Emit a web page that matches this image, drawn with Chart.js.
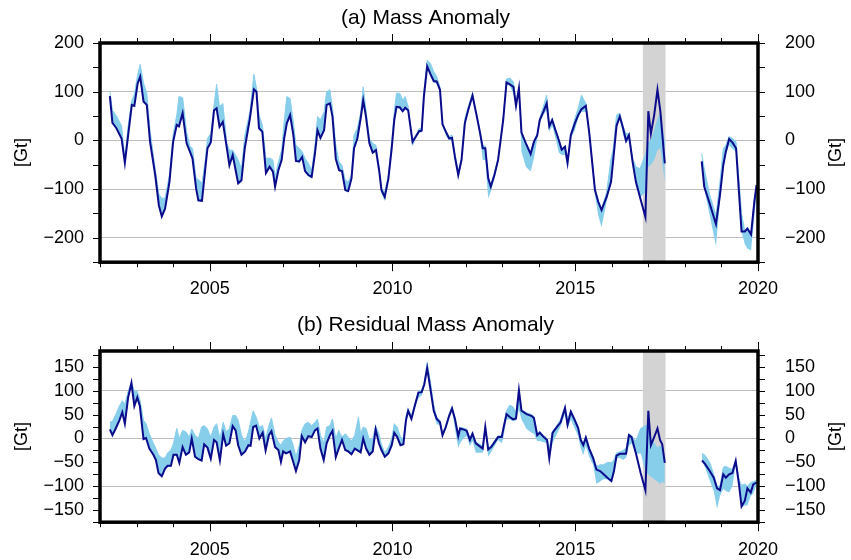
<!DOCTYPE html>
<html>
<head>
<meta charset="utf-8">
<script src="https://cdn.jsdelivr.net/npm/chart.js@4/dist/chart.umd.min.js"></script>
<style>
  body { margin: 0; background: #fff; }
  #wrap { position: relative; width: 851px; height: 560px; }
  canvas { position: absolute; left: 0; }
</style>
</head>
<body>
<div id="wrap">
  <canvas id="chartA" width="851" height="300" style="top:0"></canvas>
  <canvas id="chartB" width="851" height="260" style="top:300px"></canvas>
</div>
<script>
// ---- data (decimal year, Gt) ----
const yearsA = [
  2002.27, 2002.34, 2002.45, 2002.59, 2002.68, 2002.77, 2002.87, 2002.94,
  2003.03, 2003.10, 2003.19, 2003.28, 2003.37, 2003.51, 2003.61, 2003.69, 2003.78, 2003.90,
  2004.00, 2004.10, 2004.16, 2004.26, 2004.37, 2004.46, 2004.53, 2004.63, 2004.69, 2004.79, 2004.88, 2004.94,
  2005.03, 2005.12, 2005.19, 2005.27, 2005.36, 2005.47, 2005.54, 2005.63, 2005.78, 2005.87, 2005.96,
  2006.10, 2006.21, 2006.28, 2006.35, 2006.44, 2006.54, 2006.64, 2006.73, 2006.79, 2006.88, 2006.97,
  2007.04, 2007.11, 2007.20, 2007.29, 2007.36, 2007.45, 2007.53, 2007.61, 2007.70, 2007.79, 2007.88, 2007.95,
  2008.03, 2008.13, 2008.20, 2008.29, 2008.36, 2008.45, 2008.54, 2008.62, 2008.71, 2008.79, 2008.88, 2008.95,
  2009.04, 2009.13, 2009.20, 2009.27, 2009.37, 2009.46, 2009.55, 2009.64, 2009.70, 2009.79, 2009.89, 2009.98,
  2010.05, 2010.11, 2010.20, 2010.28, 2010.35, 2010.43, 2010.55, 2010.64, 2010.73, 2010.80, 2010.86, 2010.95,
  2011.04, 2011.13, 2011.21, 2011.30, 2011.37, 2011.46, 2011.55, 2011.63, 2011.71, 2011.80, 2011.89, 2011.98,
  2012.07, 2012.19, 2012.30, 2012.39, 2012.47, 2012.54, 2012.62, 2012.69, 2012.79, 2012.89,
  2013.03, 2013.12, 2013.21, 2013.31, 2013.38, 2013.46, 2013.53, 2013.65, 2013.78, 2013.87, 2013.96,
  2014.03, 2014.13, 2014.22, 2014.29, 2014.37, 2014.46, 2014.55, 2014.63, 2014.72, 2014.79, 2014.88, 2014.99,
  2015.08, 2015.17, 2015.29, 2015.38, 2015.54, 2015.63, 2015.72, 2015.86, 2015.98,
  2016.04, 2016.13, 2016.22, 2016.31, 2016.39, 2016.47, 2016.57, 2016.66, 2016.77, 2016.92,
  2017.00, 2017.07, 2017.16, 2017.25, 2017.33, 2017.45,
  2018.46, 2018.53, 2018.68, 2018.85, 2018.96, 2019.05, 2019.12, 2019.21, 2019.30, 2019.40,
  2019.55, 2019.64, 2019.71, 2019.81, 2019.90, 2019.96
];
const massA = [
  91, 36, 25, 4, -46, 11, 73, 71,
  117, 131, 80, 73, -3, -71, -133, -156, -140, -85,
  -3, 32, 29, 56, -6, -23, -37, -99, -123, -124, -58, -16,
  -4, 62, 66, 28, 38, -16, -51, -30, -88, -82, -16,
  45, 105, 100, 25, 18, -67, -54, -64, -95, -61, -40,
  5, 35, 52, 11, -42, -43, -34, -63, -71, -75, -27, 21,
  5, 21, 73, 76, 49, -38, -61, -63, -102, -104, -78, -16,
  4, 45, 82, 52, -6, -25, -20, -64, -102, -116, -78, -16,
  42, 69, 68, 60, 67, 62, -3, 8, 19, 20, 90, 152,
  136, 122, 121, 104, 33, 18, 4, 5, -34, -71, -40, 35,
  62, 92, 52, 18, -16, -16, -78, -95, -71, -40,
  42, 119, 115, 110, 71, 107, 16, -6, -28, -3, 10,
  42, 59, 76, 29, 42, 21, 1, -19, -13, -46, 11, 35,
  52, 64, 71, 18, -102, -126, -143, -116, -85,
  -40, 30, 49, 25, -1, 11, -44, -85, -116, -157,
  60, 14, 52, 104, 59, -47,
  -43, -95, -130, -172, -112, -51, -23, 3, -4, -16,
  -187, -187, -181, -193, -126, -92
];
const massLowA = [
  88, 34, 23, 2, -54, 8, 70, 69,
  115, 128, 78, 70, -6, -74, -136, -157, -142, -88,
  -6, 29, 27, 53, -9, -26, -40, -101, -125, -126, -61, -19,
  -7, 59, 63, 25, 35, -19, -54, -33, -91, -85, -19,
  42, 102, 97, 22, 15, -70, -57, -67, -98, -64, -43,
  2, 32, 49, 8, -45, -46, -37, -66, -74, -78, -30, 18,
  2, 18, 70, 73, 46, -41, -64, -66, -105, -107, -81, -19,
  1, 42, 79, 49, -9, -28, -23, -67, -109, -125, -81, -19,
  39, 66, 65, 57, 64, 59, -13, 4, 16, 17, 86, 148,
  132, 118, 117, 100, 29, 10, 0, 1, -38, -82, -44, 31,
  58, 88, 48, 10, -40, -40, -119, -105, -78, -46,
  36, 115, 112, 96, 68, 100, -23, -54, -64, -37, 2,
  36, 52, 62, 18, 30, 5, -25, -30, -30, -58, 5, 21,
  45, 59, 59, 12, -113, -154, -178, -126, -88,
  -44, 28, 45, 11, -6, 1, -54, -92, -118, -106,
  -54, -50, -40, -20, -16, -85,
  -44, -99, -154, -217, -126, -58, -30, -10, -17, -23,
  -188, -213, -222, -226, -157, -106
];
const massHighA = [
  100, 62, 50, 30, -37, 30, 82, 95,
  135, 156, 118, 97, 20, -58, -110, -119, -118, -71,
  12, 52, 90, 88, 18, -12, -16, -78, -80, -88, -40, 4,
  14, 73, 115, 69, 76, -6, -20, -20, -40, -58, 10,
  59, 136, 107, 52, 32, -37, -36, -40, -75, -44, -20,
  40, 90, 86, 38, -10, -16, -23, -37, -47, -61, -10, 49,
  42, 59, 100, 104, 66, -10, -44, -51, -82, -85, -71, 11,
  25, 56, 110, 66, 4, -6, -10, -58, -99, -106, -71, -3,
  59, 97, 97, 83, 90, 69, -1, 10, 25, 23, 100, 165,
  158, 141, 131, 110, 36, 20, 8, 11, -30, -64, -34, 45,
  68, 98, 56, 22, -10, -12, -75, -90, -66, -36,
  46, 126, 128, 120, 80, 108, 18, -4, -24, 0, 14,
  46, 70, 93, 32, 45, 23, 2, -17, -12, -44, 14, 45,
  66, 93, 76, 22, -99, -124, -140, -106, -37,
  -17, 52, 56, 28, 14, 14, -37, -54, -58, -30,
  -3, 0, 18, 42, 56, -10,
  -27, -58, -112, -154, -85, -17, -10, 8, 4, -3,
  -150, -186, -178, -190, -120, -92
];

const yearsB = [
  2002.27, 2002.34, 2002.43, 2002.53, 2002.61, 2002.68, 2002.77, 2002.86, 2002.94,
  2003.02, 2003.09, 2003.19, 2003.26, 2003.35, 2003.46, 2003.53, 2003.60, 2003.69, 2003.78, 2003.85, 2003.94,
  2004.01, 2004.10, 2004.17, 2004.26, 2004.35, 2004.44, 2004.51, 2004.60, 2004.69, 2004.78, 2004.85, 2004.94,
  2005.03, 2005.12, 2005.19, 2005.28, 2005.37, 2005.45, 2005.54, 2005.63, 2005.71, 2005.78, 2005.87, 2005.97,
  2006.06, 2006.12, 2006.19, 2006.27, 2006.36, 2006.45, 2006.53, 2006.62, 2006.69, 2006.79, 2006.88, 2006.95,
  2007.01, 2007.09, 2007.20, 2007.27, 2007.36, 2007.45, 2007.52, 2007.61, 2007.70, 2007.79, 2007.88, 2007.95,
  2008.03, 2008.12, 2008.20, 2008.29, 2008.36, 2008.45, 2008.53, 2008.62, 2008.71, 2008.79, 2008.88, 2008.97,
  2009.07, 2009.13, 2009.20, 2009.28, 2009.37, 2009.46, 2009.54, 2009.63, 2009.70, 2009.79, 2009.89, 2009.98,
  2010.05, 2010.13, 2010.22, 2010.30, 2010.37, 2010.43, 2010.52, 2010.61, 2010.71, 2010.80, 2010.87, 2010.95,
  2011.04, 2011.13, 2011.21, 2011.30, 2011.37, 2011.46, 2011.55, 2011.63, 2011.71, 2011.80, 2011.85, 2011.94,
  2012.03, 2012.12, 2012.19, 2012.28, 2012.47, 2012.54, 2012.62, 2012.71, 2012.89, 2012.99,
  2013.03, 2013.12, 2013.21, 2013.30, 2013.38, 2013.46, 2013.53, 2013.67, 2013.81, 2013.87, 2013.96,
  2014.03, 2014.14, 2014.23, 2014.29, 2014.38, 2014.47, 2014.60, 2014.72, 2014.79, 2014.88, 2014.99,
  2015.08, 2015.15, 2015.22, 2015.29, 2015.38, 2015.49, 2015.58, 2015.68, 2015.77, 2015.88, 2015.99,
  2016.06, 2016.13, 2016.22, 2016.31, 2016.39, 2016.47, 2016.54, 2016.66, 2016.79, 2016.92,
  2017.00, 2017.07, 2017.16, 2017.25, 2017.32, 2017.38, 2017.45,
  2018.47, 2018.55, 2018.68, 2018.79, 2018.88, 2018.96, 2019.05, 2019.12, 2019.21, 2019.30,
  2019.39, 2019.48, 2019.55, 2019.64, 2019.71, 2019.80, 2019.87, 2019.96
];
const residB = [
  19, 7, 21, 38, 55, 31, 86, 116, 68,
  86, 68, -1, 1, -21, -34, -45, -72, -79, -63, -57, -57,
  -34, -34, -51, -18, -34, -29, 0, -38, -43, -46, -12, -19,
  -42, -3, -8, -46, 9, -15, -10, 26, 17, -14, -34, -27,
  -14, -15, 24, 27, 0, 12, -25, 7, 15, -18, -24, -49,
  -27, -31, -27, -45, -68, -45, 5, -8, 5, 3, 17, 21,
  -21, -45, -10, 7, 16, -39, -21, -3, -24, -27, -33, -21,
  -26, -29, 0, -21, -34, -27, 19, -10, -24, -38, -31, -14,
  12, 3, -14, -12, 38, 58, 41, 68, 96, 97, 113, 147,
  103, 58, 41, 34, 7, 24, 47, 63, 41, 5, 21, 19,
  16, -3, 10, -10, -21, 24, -23, -17, 3, 3,
  19, 51, 45, 40, 42, 101, 58, 51, 47, 43, 7,
  12, 3, -3, -41, 12, 21, 34, 64, 29, 56, 38,
  22, -3, -14, 2, -21, -41, -65, -68, -74, -82, -89,
  -68, -36, -32, -32, -32, 7, 3, -31, -72, -108,
  58, -14, 3, 21, -3, -12, -51,
  -46, -53, -68, -82, -104, -108, -75, -82, -75, -72,
  -47, -96, -142, -130, -104, -113, -96, -92
];
const residLowB = [
  17, 5, 19, 36, 52, 29, 83, 112, 66,
  84, 66, -3, -1, -23, -36, -47, -74, -81, -65, -59, -59,
  -36, -36, -53, -20, -36, -31, -2, -40, -45, -48, -14, -21,
  -44, -5, -10, -48, 7, -17, -12, 24, 15, -16, -36, -29,
  -16, -17, 22, 25, -2, 10, -27, 5, 13, -20, -26, -51,
  -29, -33, -29, -47, -70, -47, 3, -10, 3, 1, 15, 19,
  -23, -47, -12, 5, 14, -41, -23, -5, -26, -29, -35, -23,
  -28, -31, -2, -23, -36, -29, 17, -12, -26, -42, -33, -16,
  10, 1, -16, -14, 36, 54, 36, 64, 84, 90, 108, 140,
  98, 54, 30, 28, 3, 20, 43, 59, 20, -20, -10, 0,
  5, -16, -5, -30, -30, 17, -38, -27, -3, -10,
  0, 40, 40, 36, 38, 60, 40, 20, 12, 10, -5,
  -5, -8, -10, -43, -10, 5, 25, 50, 20, 40, 20,
  5, -20, -35, -15, -38, -55, -95, -90, -85, -85, -92,
  -72, -42, -40, -45, -40, -15, -10, -33, -31, -68,
  -75, -80, -85, -90, -95, -90, -95,
  -48, -60, -88, -110, -147, -120, -105, -110, -113, -100,
  -55, -100, -144, -140, -140, -120, -115, -96
];
const residHighB = [
  34, 36, 50, 68, 79, 72, 99, 118, 99,
  99, 82, 38, 31, 10, -10, -21, -34, -41, -41, -30, -24,
  -10, 21, 0, 17, 14, 3, 20, 7, 0, 24, 27, 20,
  3, 24, 31, 0, 34, 14, 21, 48, 48, 38, 7, -7,
  14, 34, 58, 45, 24, 27, 0, 27, 43, 7, -8, -14,
  -5, 0, 3, -10, -38, -14, 17, 31, 34, 27, 34, 41,
  7, -10, 24, 27, 41, 0, 17, 3, 10, 3, -5, 7,
  45, 10, 24, 21, -3, 0, 27, 10, -12, -30, -18, 0,
  31, 24, 3, 0, 48, 62, 48, 72, 98, 102, 117, 160,
  118, 70, 45, 38, 10, 28, 51, 67, 45, 10, 24, 22,
  20, 0, 14, -7, -16, 28, -20, -14, 6, 6,
  22, 58, 70, 66, 55, 104, 60, 54, 50, 46, 10,
  15, 6, 0, -20, 15, 24, 40, 67, 40, 59, 41,
  25, 0, -10, 5, -18, -38, -58, -55, -55, -50, -50,
  -45, -30, -28, -25, -20, 10, 6, -5, 21, 27,
  27, 0, -10, -20, -15, -20, -45,
  -31, -35, -50, -75, -100, -100, -60, -58, -62, -65,
  -44, -85, -98, -95, -100, -92, -90, -88
];

// ticks and shaded interval
const xTickLabels = [2005, 2010, 2015, 2020];
const yTickLabelsA = [-200, -100, 0, 100, 200];
const yTickLabelsB = [-150, -100, -50, 0, 50, 100, 150];
const shadedYears = [2016.85, 2017.47];

const FONT = '"Liberation Sans", Arial, Helvetica, sans-serif';
Chart.defaults.font.family = FONT;
Chart.defaults.color = '#000';

const LINE = '#0b0b8c';
const BAND = '#87ceeb';

function segments(xs, ys) {
  const segs = [[]];
  xs.forEach((x, i) => {
    if (i > 0 && x - xs[i - 1] > 0.5) segs.push([]);
    segs[segs.length - 1].push({ x: x, y: ys[i] });
  });
  return segs;
}

// proper minus sign for negative labels
const fmt = v => (v < 0 ? '\u2212' + Math.abs(v) : String(v));

// frame, tick marks, grey box, axis titles
const framePlugin = {
  id: 'frame',
  beforeDatasetsDraw(chart) {
    const { ctx, chartArea: a, scales: { x } } = chart;
    const x0 = x.getPixelForValue(shadedYears[0]);
    const x1 = x.getPixelForValue(shadedYears[1]);
    ctx.save();
    ctx.fillStyle = '#d3d3d3';
    ctx.fillRect(x0, a.top, x1 - x0, a.bottom - a.top);
    ctx.restore();
  },
  afterDraw(chart, args, opts) {
    const { ctx, chartArea: a, scales: { x, y } } = chart;
    ctx.save();
    ctx.strokeStyle = '#000';
    ctx.lineWidth = 1;
    ctx.beginPath();
    for (let yr = 2002; yr <= 2020; yr++) {
      const px = Math.round(x.getPixelForValue(yr)) + 0.5;
      const len = yr % 5 === 0 ? 9 : 5;
      ctx.moveTo(px, a.top); ctx.lineTo(px, a.top - len);
      ctx.moveTo(px, a.bottom); ctx.lineTo(px, a.bottom + len);
    }
    for (let v = opts.tickMin; v <= y.max + 0.01; v += opts.tickStep) {
      const py = Math.round(y.getPixelForValue(v)) + 0.5;
      ctx.moveTo(a.left, py); ctx.lineTo(a.left - 7, py);
      ctx.moveTo(a.right, py); ctx.lineTo(a.right + 7, py);
    }
    ctx.stroke();
    ctx.lineWidth = 3.5;
    ctx.strokeRect(a.left, a.top, a.right - a.left, a.bottom - a.top);

    ctx.font = '18px ' + FONT;
    ctx.fillStyle = '#000';
    ctx.textAlign = 'center';
    ctx.textBaseline = 'middle';
    const cy = (a.top + a.bottom) / 2;
    [22, 836].forEach(tx => {
      ctx.save();
      ctx.translate(tx, cy);
      ctx.rotate(-Math.PI / 2);
      ctx.fillText('[Gt]', 0, 0);
      ctx.restore();
    });
    ctx.restore();
  }
};

function makePanel(id, title, titlePad, xs, vals, lo, hi, yMin, yMax, yLabels, tickMin, tickStep, xHeight, xPad) {
  const lineSegs = segments(xs, vals);
  const loSegs = segments(xs, lo);
  const hiSegs = segments(xs, hi);
  const datasets = [];
  loSegs.forEach((seg, i) => {
    datasets.push({ data: seg, borderWidth: 0, borderColor: 'rgba(0,0,0,0)', pointRadius: 0, fill: false, order: 2 });
    datasets.push({ data: hiSegs[i], borderWidth: 1, borderColor: BAND, backgroundColor: BAND, pointRadius: 0, fill: '-1', order: 2 });
  });
  lineSegs.forEach(seg => {
    datasets.push({ data: seg, borderColor: LINE, borderWidth: 2, pointRadius: 0, fill: false, order: 0 });
  });

  const tickFont = { size: 18 };
  new Chart(document.getElementById(id), {
    type: 'line',
    data: { datasets: datasets },
    options: {
      responsive: false,
      animation: false,
      events: [],
      layout: { padding: 0 },
      elements: { line: { tension: 0 } },
      plugins: {
        legend: { display: false },
        tooltip: { enabled: false },
        title: { display: true, text: title, font: { size: 21, weight: 'normal' }, color: '#000', padding: titlePad },
        frame: { tickMin: tickMin, tickStep: tickStep }
      },
      scales: {
        x: {
          type: 'linear', min: 2002, max: 2020,
          afterBuildTicks: s => { s.ticks = xTickLabels.map(v => ({ value: v })); },
          afterFit: s => { s.height = xHeight; },
          ticks: { font: tickFont, color: '#000', padding: xPad, maxRotation: 0, autoSkip: false, callback: v => String(v) },
          grid: { display: false },
          border: { display: false }
        },
        y: {
          position: 'left', min: yMin, max: yMax,
          afterBuildTicks: s => { s.ticks = yLabels.map(v => ({ value: v })); },
          afterFit: s => { s.width = 100; },
          ticks: { font: tickFont, color: '#000', padding: 16, callback: fmt },
          grid: { drawTicks: false, lineWidth: 1, color: c => (c.tick && c.tick.value % 100 === 0) ? '#bdbdbd' : 'rgba(0,0,0,0)' },
          border: { display: false }
        },
        y2: {
          position: 'right', min: yMin, max: yMax,
          afterBuildTicks: s => { s.ticks = yLabels.map(v => ({ value: v })); },
          afterFit: s => { s.width = 93; },
          ticks: { font: tickFont, color: '#000', padding: 27, callback: fmt },
          grid: { display: false, drawTicks: false },
          border: { display: false }
        }
      }
    },
    plugins: [framePlugin]
  });
}

makePanel('chartA', '(a) Mass Anomaly', { top: 5.4, bottom: 12.4 },
  yearsA, massA, massLowA, massHighA, -250, 200, yTickLabelsA, -250, 50, 37, 8);
makePanel('chartB', '(b) Residual Mass Anomaly', { top: 12.4, bottom: 13.4 },
  yearsB, residB, residLowB, residHighB, -175, 183, yTickLabelsB, -175, 25, 35, 9);
</script>
</body>
</html>
